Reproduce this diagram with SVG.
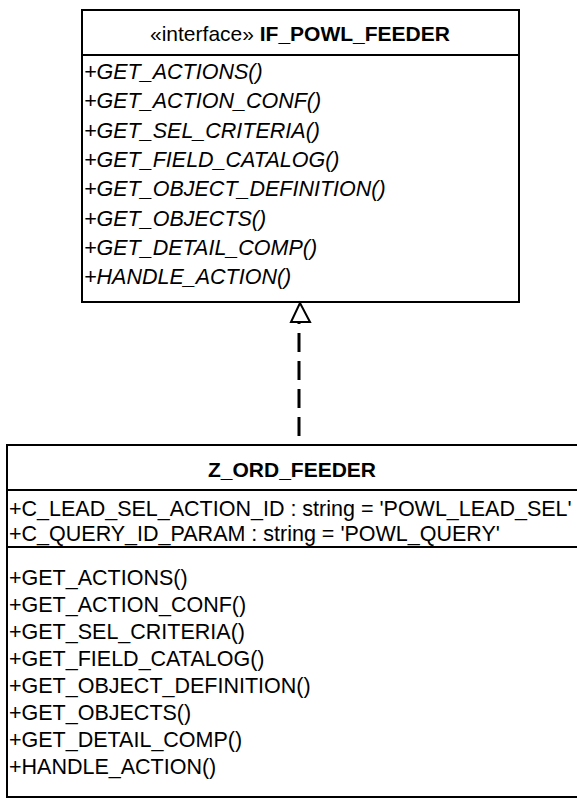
<svg xmlns="http://www.w3.org/2000/svg" width="577" height="799" viewBox="0 0 577 799">
<style>
  .box { fill: #ffffff; stroke: #000000; stroke-width: 2; }
  .sep { stroke: #000000; stroke-width: 2; fill: none; }
  .t { font-family: "Liberation Sans", Arial, sans-serif; font-size: 21.5px; fill: #000000; }
  .ttl { font-size: 21px; }
  .it { font-style: italic; }
  .b { font-weight: bold; }
  .dash { stroke: #000000; stroke-width: 3; fill: none; stroke-dasharray: 19 9; }
  .head { fill: #ffffff; stroke: #000000; stroke-width: 2; stroke-linejoin: miter; }
</style>
<rect width="577" height="799" fill="#ffffff"/>
<g id="IF_POWL_FEEDER">
  <rect class="box" x="82" y="10" width="437" height="292"/>
  <line class="sep" x1="82" y1="55" x2="519" y2="55"/>
  <text class="t ttl" x="300" y="41" text-anchor="middle">«interface» <tspan class="b">IF_POWL_FEEDER</tspan></text>
  <text class="t it" x="84" y="79">+GET_ACTIONS()</text>
  <text class="t it" x="84" y="108.3">+GET_ACTION_CONF()</text>
  <text class="t it" x="84" y="137.6">+GET_SEL_CRITERIA()</text>
  <text class="t it" x="84" y="166.9">+GET_FIELD_CATALOG()</text>
  <text class="t it" x="84" y="196.2">+GET_OBJECT_DEFINITION()</text>
  <text class="t it" x="84" y="225.5">+GET_OBJECTS()</text>
  <text class="t it" x="84" y="254.8">+GET_DETAIL_COMP()</text>
  <text class="t it" x="84" y="284.1">+HANDLE_ACTION()</text>
</g>
<g id="Z_ORD_FEEDER">
  <path class="sep" d="M578,445 H7 V797 H578"/>
  <line class="sep" x1="7" y1="490" x2="578" y2="490"/>
  <line class="sep" x1="7" y1="547" x2="578" y2="547"/>
  <text class="t ttl b" x="292" y="477" text-anchor="middle">Z_ORD_FEEDER</text>
  <text class="t" x="9" y="515.5">+C_LEAD_SEL_ACTION_ID : string = 'POWL_LEAD_SEL'</text>
  <text class="t" x="9" y="541">+C_QUERY_ID_PARAM : string = 'POWL_QUERY'</text>
  <text class="t" x="9" y="585">+GET_ACTIONS()</text>
  <text class="t" x="9" y="612">+GET_ACTION_CONF()</text>
  <text class="t" x="9" y="639">+GET_SEL_CRITERIA()</text>
  <text class="t" x="9" y="666">+GET_FIELD_CATALOG()</text>
  <text class="t" x="9" y="693">+GET_OBJECT_DEFINITION()</text>
  <text class="t" x="9" y="720">+GET_OBJECTS()</text>
  <text class="t" x="9" y="747">+GET_DETAIL_COMP()</text>
  <text class="t" x="9" y="774">+HANDLE_ACTION()</text>
</g>
<g id="connectors">
  <line class="dash" x1="299" y1="436" x2="299" y2="323"/>
  <polygon class="head" points="300,303 291,322 310,322"/>
</g>
</svg>
